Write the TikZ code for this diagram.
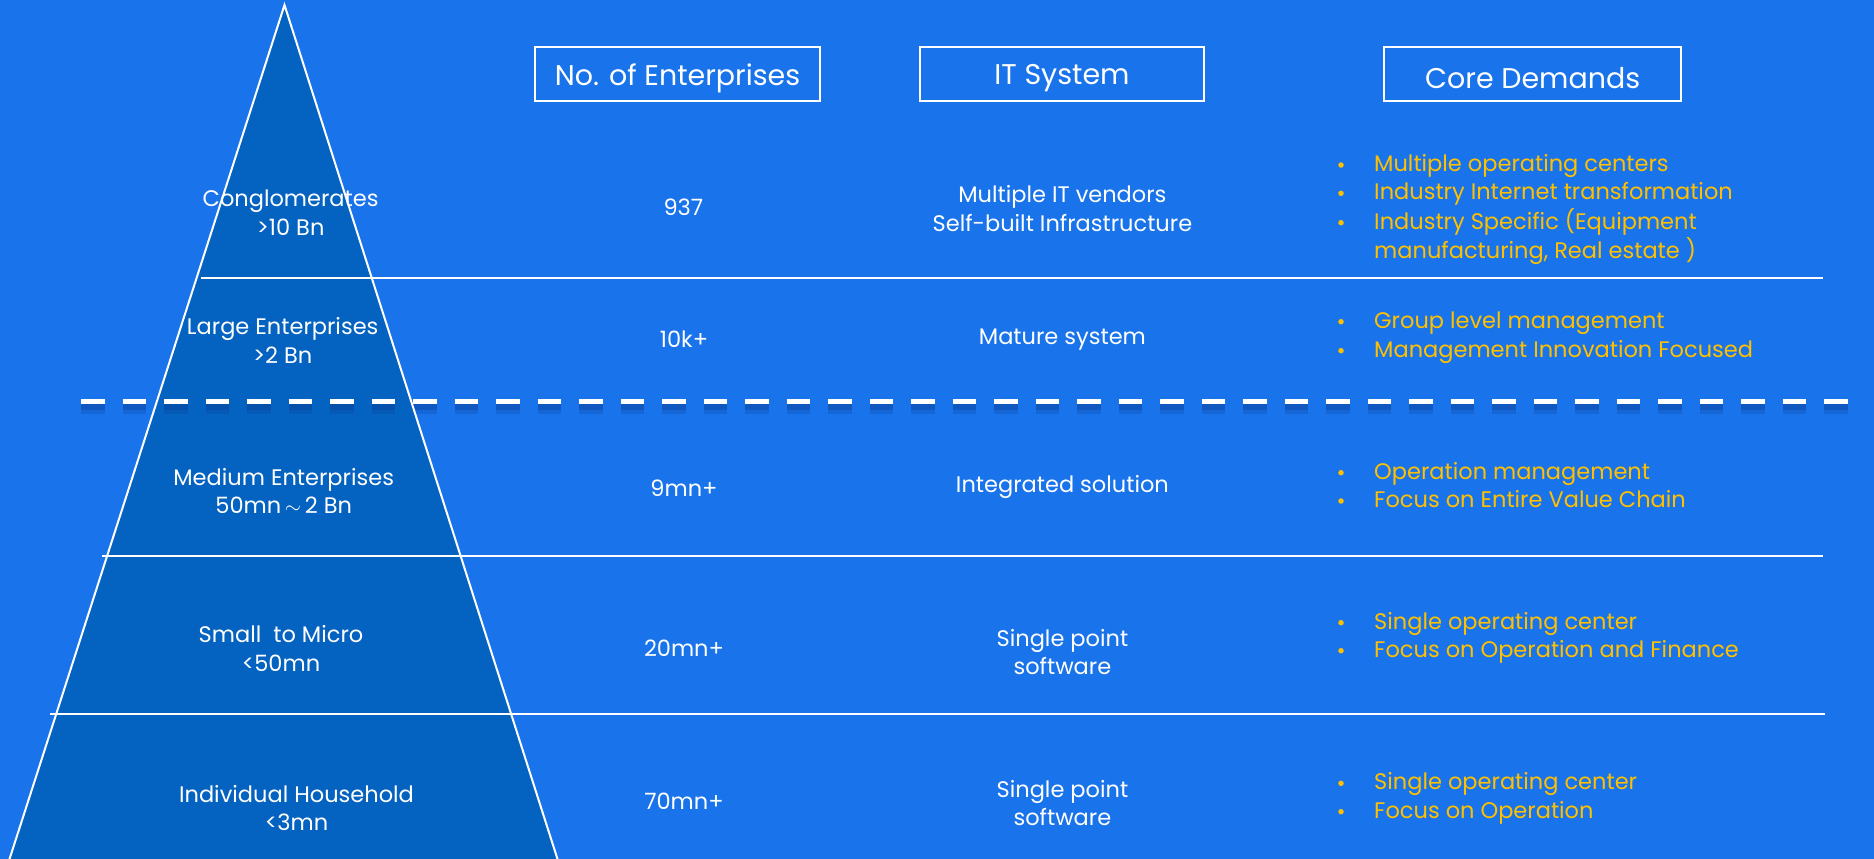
\documentclass[tikz,border=0pt]{standalone}
\usepackage{fontspec}
\setmainfont{Poppins}
\definecolor{bgblue}{RGB}{25,115,234}
\definecolor{pyr}{RGB}{4,98,192}
\definecolor{shad}{RGB}{8,62,150}
\definecolor{gold}{RGB}{255,192,0}
\tikzset{
  hdr/.style={draw=white, line width=2pt, text=white, minimum height=54pt, inner sep=0pt,
    font=\fontsize{28.5}{34}\selectfont},
  hdrtext/.style={text=white, inner sep=0pt, font=\fontsize{28.5}{34}\selectfont},
  lbl/.style={text=white, align=center, inner sep=0pt, font=\fontsize{22.5}{28.4}\selectfont},
  dem/.style={text=gold, anchor=west, inner sep=0pt, text height=0.72em, text depth=0.22em,
    yshift=-4pt, font=\fontsize{22.5}{28.4}\selectfont},
  bdot/.style={circle, fill=gold, minimum size=5.5pt, inner sep=0pt},
  rowline/.style={draw=white, line width=2.5pt},
  edge/.style={draw=white, line width=2pt, line join=miter},
}
\newcommand{\dmd}[3]{\node[bdot] (b#1) at (1341,#2) {}; \node[dem] (d#1) at (1374,#2) {#3};}
\begin{document}
\begin{tikzpicture}[x=1pt,y=-1pt]
\useasboundingbox (0,0) rectangle (1874,859);
\fill[bgblue] (0,0) rectangle (1874,859);
\begin{scope}
\clip (0,0) rectangle (1874,859);
% pyramid
\coordinate (apex) at (284.5,5);
\coordinate (bl) at (6,870);
\coordinate (br) at (561,870);
\path[fill=pyr] (apex) -- (br) -- (bl) -- cycle;
% row lines
\coordinate (l1a) at (201,278); \coordinate (l1b) at (1823,278);
\coordinate (l2a) at (102,556); \coordinate (l2b) at (1823,556);
\coordinate (l3a) at (50,714);  \coordinate (l3b) at (1825,714);
\draw[rowline] (l1a) -- (l1b);
\draw[rowline] (l2a) -- (l2b);
\draw[rowline] (l3a) -- (l3b);
% dashed separator with shadow
\coordinate (da) at (81,401); \coordinate (db) at (1855,401);
\draw[shad, opacity=0.22, line width=11pt, dash pattern=on 23.7pt off 17.8pt, transform canvas={yshift=-7pt}] (da) -- (db);
\draw[shad, opacity=0.35, line width=6pt, dash pattern=on 23.7pt off 17.8pt, transform canvas={yshift=-6pt}] (da) -- (db);
\draw[white, line width=5pt, dash pattern=on 23.7pt off 17.8pt] (da) -- (db);
\draw[edge] (bl) -- (apex) -- (br);
\end{scope}
% headers
\node[hdr, minimum width=285pt] (h1) at (677.5,74) {};
\node[hdr, minimum width=284pt] (h2) at (1062,74) {};
\node[hdr, minimum width=296.5pt] (h3) at (1532.7,74) {};
\node[hdrtext] (t1) at ([yshift=-4pt]h1.center) {No. of Enterprises};
\node[hdrtext] (t2) at ([yshift=-4pt]h2.center) {IT System};
\node[hdrtext] (t3) at ([yshift=-4pt]h3.center) {Core Demands};
% pyramid labels
\node[lbl] (p1) at (290.6,212.5) {Conglomerates\\>10 Bn};
\node[lbl] (p2) at (282.7,340.5) {Large Enterprises\\>2 Bn};
\node[lbl] (p3) at (283.7,491) {Medium Enterprises\\50mn\,$\sim$\,2 Bn};
\node[lbl] (p4) at (281,648.5) {Small\ \ to Micro\\<50mn};
\node[lbl] (p5) at (296.5,808) {Individual Household\\<3mn};
% numbers
\node[lbl] (n1) at (683.4,207.3) {937};
\node[lbl] (n2) at (684,339) {10k+};
\node[lbl] (n3) at (684,488.3) {9mn+};
\node[lbl] (n4) at (684,648.3) {20mn+};
\node[lbl] (n5) at (684,801) {70mn+};
% IT system
\node[lbl] (s1) at (1062.4,208.5) {Multiple IT vendors\\Self-built Infrastructure};
\node[lbl] (s2) at (1062.4,340) {Mature system};
\node[lbl] (s3) at (1062.4,487) {Integrated solution};
\node[lbl] (s4) at (1062.4,652) {Single point\\software};
\node[lbl] (s5) at (1062.4,803) {Single point\\software};
% core demands
\dmd{a}{165}{Multiple operating centers}
\dmd{b}{193.3}{Industry Internet transformation}
\dmd{c}{222.7}{Industry Specific (Equipment}
\node[dem] (dc2) at (1374,251.7) {manufacturing, Real estate )};
\dmd{d}{321.7}{Group level management}
\dmd{e}{350.7}{Management Innovation Focused}
\dmd{f}{472.7}{Operation management}
\dmd{g}{501}{Focus on Entire Value Chain}
\dmd{h}{622.7}{Single operating center}
\dmd{i}{650.7}{Focus on Operation and Finance}
\dmd{j}{783.3}{Single operating center}
\dmd{k}{811.7}{Focus on Operation}
\end{tikzpicture}
\end{document}
